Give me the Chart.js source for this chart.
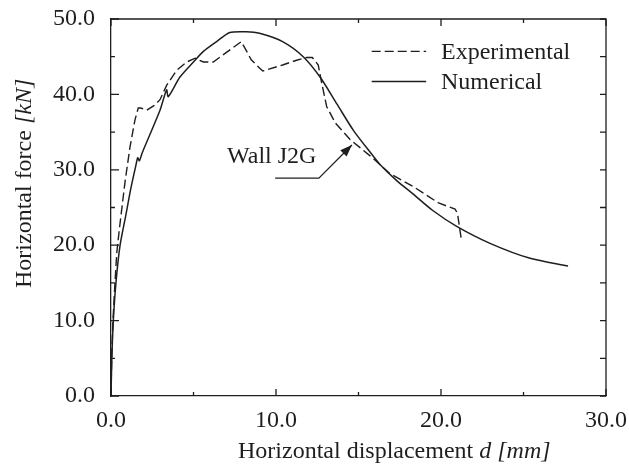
<!DOCTYPE html>
<html>
<head>
<meta charset="utf-8">
<script src="https://cdn.jsdelivr.net/npm/chart.js@4.4.0/dist/chart.umd.min.js"></script>
<style>
  html, body { margin: 0; padding: 0; background: #fff; }
</style>
</head>
<body>
<canvas id="graphique" width="629" height="465"></canvas>
<script>
// Courbe force / déplacement du mur J2G : essai et modèle numérique

// Essai (tirets)
const deplExp = [0, 0.04, 0.12, 0.24, 0.35, 0.5, 0.85, 1.15, 1.45, 1.65, 1.8, 2.16, 2.6, 2.97, 3.37, 3.98, 4.59, 5.1, 5.6, 6.2, 7.9, 8.5, 9.0, 9.2, 10.4, 11.2, 11.86, 12.2, 12.56, 12.77, 13.07, 13.6, 14.5, 15.9, 16.9, 18.3, 19.85, 20.85, 21.0, 21.25];
const forceExp = [0, 5, 10, 15, 19, 22, 28.4, 33, 36.6, 38.2, 38.2, 37.9, 38.5, 39.3, 41.2, 43.2, 44.3, 44.8, 44.3, 44.3, 47.0, 44.6, 43.5, 43.1, 43.9, 44.5, 44.9, 44.9, 43.9, 41.5, 38.4, 36.2, 34.0, 31.5, 29.5, 27.8, 25.6, 24.8, 24.2, 20.5];

// Modèle numérique (trait plein)
const deplNum = [0, 0.05, 0.14, 0.3, 0.55, 0.9, 1.2, 1.5, 1.62, 1.72, 1.9, 2.97, 3.37, 3.47, 4.18, 5.0, 5.6, 6.4, 7.2, 8.2, 9.0, 10.4, 11.65, 12.67, 13.7, 14.7, 15.9, 16.3, 17.3, 18.3, 19.5, 20.95, 22.97, 25.4, 27.7];
const forceNum = [0, 5, 10, 15, 20, 24, 27.5, 30.5, 31.6, 31.2, 32.3, 37.9, 40.6, 39.7, 42.3, 44.3, 45.7, 47.0, 48.2, 48.3, 48.1, 47.0, 45.0, 42.3, 38.7, 35.2, 31.8, 30.7, 28.6, 26.8, 24.6, 22.5, 20.25, 18.26, 17.24];

const ticksX = [0, 10, 20, 30];
const ticksY = [0, 10, 20, 30, 40, 50];
const legendes = ['Experimental', 'Numerical'];
const titreX = [{ t: 'Horizontal displacement ', i: false }, { t: 'd [mm]', i: true }];
const titreY = [{ t: 'Horizontal force ', i: false }, { t: '[kN]', i: true }];
const etiquette = 'Wall J2G';

const POLICE = '"Liberation Serif", "DejaVu Serif", serif';
const TAILLE = 24;
const NOIR = '#1e1e1e';

function points(xs, ys) {
  return xs.map((v, i) => ({ x: v, y: ys[i] }));
}

// Ecrit un texte en plusieurs morceaux (romain / italique) à partir de (x, y)
function texteMixte(ctx, morceaux, x, y) {
  let cx = x;
  morceaux.forEach((m) => {
    ctx.font = (m.i ? 'italic ' : '') + TAILLE + 'px ' + POLICE;
    ctx.fillText(m.t, cx, y);
    cx += ctx.measureText(m.t).width;
  });
}

// Cadre, graduations intérieures, légende, titres et annotation
const habillage = {
  id: 'habillage',
  afterDraw(chart) {
    const { ctx, chartArea: a, scales: { x, y } } = chart;
    ctx.save();
    ctx.strokeStyle = NOIR;
    ctx.fillStyle = NOIR;
    ctx.lineWidth = 1.3;

    ctx.beginPath();
    ctx.moveTo(a.left, a.top);
    ctx.lineTo(a.right, a.top);
    ctx.lineTo(a.right, a.bottom);
    ctx.stroke();

    ctx.beginPath();
    for (let v = 0; v <= 30; v += 5) {
      const px = x.getPixelForValue(v);
      const l = v % 10 === 0 ? 7 : 4;
      ctx.moveTo(px, a.bottom); ctx.lineTo(px, a.bottom - l);
      ctx.moveTo(px, a.top); ctx.lineTo(px, a.top + l);
    }
    for (let v = 0; v <= 50; v += 5) {
      const py = y.getPixelForValue(v);
      const l = v % 10 === 0 ? 8 : 4;
      ctx.moveTo(a.left, py); ctx.lineTo(a.left + l, py);
      ctx.moveTo(a.right, py); ctx.lineTo(a.right - 6, py);
    }
    ctx.stroke();

    // Légende dans le coin haut droit
    ctx.textBaseline = 'middle';
    ctx.textAlign = 'left';
    chart.data.datasets.forEach((ds, i) => {
      const py = y.getPixelForValue(45.7 - i * 4);
      ctx.lineWidth = ds.borderWidth;
      ctx.setLineDash(ds.borderDash || []);
      ctx.beginPath();
      ctx.moveTo(x.getPixelForValue(15.8), py);
      ctx.lineTo(x.getPixelForValue(19.1), py);
      ctx.stroke();
      ctx.setLineDash([]);
      ctx.font = TAILLE + 'px ' + POLICE;
      ctx.fillText(ds.label, x.getPixelForValue(20.0), py + 1);
    });

    // Annotation avec flèche
    ctx.textAlign = 'right';
    ctx.font = TAILLE + 'px ' + POLICE;
    ctx.fillText(etiquette, x.getPixelForValue(12.45), y.getPixelForValue(31.7));
    const p0 = { x: x.getPixelForValue(9.95), y: y.getPixelForValue(28.9) };
    const p1 = { x: x.getPixelForValue(12.6), y: y.getPixelForValue(28.9) };
    const p2 = { x: x.getPixelForValue(14.6), y: y.getPixelForValue(33.3) };
    ctx.lineWidth = 1.3;
    ctx.beginPath();
    ctx.moveTo(p0.x, p0.y); ctx.lineTo(p1.x, p1.y); ctx.lineTo(p2.x, p2.y);
    ctx.stroke();
    const ang = Math.atan2(p2.y - p1.y, p2.x - p1.x);
    ctx.beginPath();
    ctx.moveTo(p2.x, p2.y);
    ctx.lineTo(p2.x - 12 * Math.cos(ang) + 4.5 * Math.sin(ang), p2.y - 12 * Math.sin(ang) - 4.5 * Math.cos(ang));
    ctx.lineTo(p2.x - 12 * Math.cos(ang) - 4.5 * Math.sin(ang), p2.y - 12 * Math.sin(ang) + 4.5 * Math.cos(ang));
    ctx.closePath();
    ctx.fill();

    // Titres des axes
    ctx.textAlign = 'left';
    ctx.textBaseline = 'middle';
    texteMixte(ctx, titreX, 238, 452);
    ctx.translate(25, 288);
    ctx.rotate(-Math.PI / 2);
    texteMixte(ctx, titreY, 0, 0);
    ctx.restore();
  }
};

const axeCommun = {
  type: 'linear',
  grid: { drawOnChartArea: false, drawTicks: false },
  border: { display: true, color: NOIR, width: 1.3 },
  title: { display: false }
};

new Chart(document.getElementById('graphique'), {
  type: 'scatter',
  data: {
    datasets: [
      {
        label: legendes[0],
        data: points(deplExp, forceExp),
        showLine: true,
        borderColor: NOIR,
        borderWidth: 1.4,
        borderDash: [9, 4],
        pointRadius: 0,
        tension: 0
      },
      {
        label: legendes[1],
        data: points(deplNum, forceNum),
        showLine: true,
        borderColor: NOIR,
        borderWidth: 1.5,
        pointRadius: 0,
        tension: 0.25
      }
    ]
  },
  options: {
    responsive: false,
    animation: false,
    layout: { padding: { left: 0, right: 23, top: 19, bottom: 0 } },
    plugins: { legend: { display: false }, tooltip: { enabled: false } },
    scales: {
      x: {
        ...axeCommun,
        min: 0,
        max: 30,
        afterBuildTicks: (s) => { s.ticks = ticksX.map((v) => ({ value: v })); },
        // la zone de tracé est fixée par layout.padding, pas par les étiquettes
        afterFit: (s) => { s.height = 69; s.paddingLeft = 0; s.paddingRight = 0; },
        ticks: {
          color: NOIR,
          padding: 10,
          maxRotation: 0,
          font: { family: POLICE, size: TAILLE },
          callback: (v) => Number(v).toFixed(1)
        }
      },
      y: {
        ...axeCommun,
        min: 0,
        max: 50,
        afterBuildTicks: (s) => { s.ticks = ticksY.map((v) => ({ value: v })); },
        afterFit: (s) => { s.width = 111; s.paddingTop = 0; s.paddingBottom = 0; },
        ticks: {
          color: NOIR,
          padding: 16,
          font: { family: POLICE, size: TAILLE },
          callback: (v) => Number(v).toFixed(1)
        }
      }
    }
  },
  plugins: [habillage]
});
</script>
</body>
</html>
